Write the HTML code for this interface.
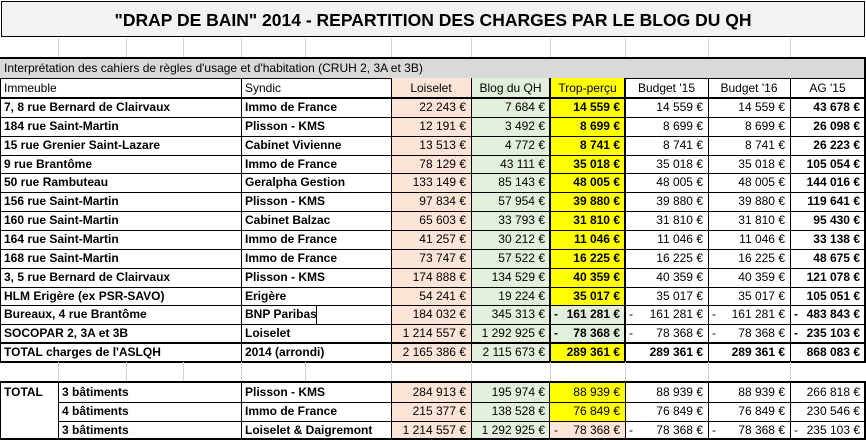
<!DOCTYPE html>
<html><head><meta charset="utf-8">
<style>
html,body{margin:0;padding:0;background:#fff;}
body{width:866px;height:440px;position:relative;overflow:hidden;font-family:"Liberation Sans",sans-serif;}
.c{position:absolute;box-sizing:border-box;font-size:12px;line-height:18px;white-space:nowrap;overflow:hidden;color:#000;}
.l{padding-left:4px;text-align:left;}
.r{padding-right:5px;text-align:right;}
.ct{text-align:center;}
.b{font-weight:bold;}
.ln{position:absolute;background:#000;}
.gl{position:absolute;background:#d4d4d4;}
</style></head>
<body>
<div class="c ct b" style="left:1px;top:1px;width:864px;height:36px;line-height:36px;font-size:17.5px;background:#f2f2f2;border:1px solid #000;">"DRAP DE BAIN" 2014 - REPARTITION DES CHARGES PAR LE BLOG DU QH</div>
<div id="grid"></div>
<script>
const cols=[0,241,391,471,550,625,708,790,865];
const headers=["Immeuble","Syndic","Loiselet","Blog du QH","Trop-perçu","Budget '15","Budget '16","AG '15"];
const names=["7, 8 rue Bernard de Clairvaux","184 rue Saint-Martin","15 rue Grenier Saint-Lazare","9 rue Brantôme","50 rue Rambuteau","156 rue Saint-Martin","160 rue Saint-Martin","164 rue Saint-Martin","168 rue Saint-Martin","3, 5 rue Bernard de Clairvaux","HLM Erigère (ex PSR-SAVO)","Bureaux, 4 rue Brantôme","SOCOPAR 2, 3A et 3B","TOTAL charges de l'ASLQH"];
const syndics=["Immo de France","Plisson - KMS","Cabinet Vivienne","Immo de France","Geralpha Gestion","Plisson - KMS","Cabinet Balzac","Immo de France","Immo de France","Plisson - KMS","Erigère","BNP Paribas","Loiselet","2014 (arrondi)"];
const loiselet=[22243,12191,13513,78129,133149,97834,65603,41257,73747,174888,54241,184032,1214557,2165386];
const blog=[7684,3492,4772,43111,85143,57954,33793,30212,57522,134529,19224,345313,1292925,2115673];
const trop=[14559,8699,8741,35018,48005,39880,31810,11046,16225,40359,35017,-161281,-78368,289361];
const b15=[14559,8699,8741,35018,48005,39880,31810,11046,16225,40359,35017,-161281,-78368,289361];
const b16=[14559,8699,8741,35018,48005,39880,31810,11046,16225,40359,35017,-161281,-78368,289361];
const ag15=[43678,26098,26223,105054,144016,119641,95430,33138,48675,121078,105051,-483843,-235103,868083];
const totCount=["3 bâtiments","4 bâtiments","3 bâtiments"];
const totSyndic=["Plisson - KMS","Immo de France","Loiselet & Daigremont"];
const totLoiselet=[284913,215377,1214557];
const totBlog=[195974,138528,1292925];
const totTrop=[88939,76849,-78368];
const totB15=[88939,76849,-78368];
const totB16=[88939,76849,-78368];
const totAG=[266818,230546,-235103];

const g=document.getElementById('grid');
function fmt(v){const s=Math.abs(v).toString().replace(/\B(?=(\d{3})+(?!\d))/g,' ');return s+' €';}
function cell(x,y,w,h,txt,cls,bg,name){
  const d=document.createElement('div');
  d.className='c '+cls;
  d.style.cssText=`left:${x}px;top:${y}px;width:${w}px;height:${h}px;line-height:${h}px;`+(bg?`background:${bg};`:'');
  d.textContent=txt;
  
  
  g.appendChild(d);return d;
}
function num(x,y,w,h,v,bold,bg,name){
  const d=cell(x,y,w,h,fmt(v),'r'+(bold?' b':''),bg,name);
  if(v<0){const m=document.createElement('span');m.textContent='-';m.style.cssText='position:absolute;left:4px;top:0;';d.appendChild(m);}
}
function hl(x1,x2,y,t,c){const d=document.createElement('div');d.className=c||'ln';d.style.cssText=`left:${x1}px;top:${y}px;width:${x2-x1}px;height:${t}px;`;g.appendChild(d);}
function vl(x,y1,y2,t,c){const d=document.createElement('div');d.className=c||'ln';d.style.cssText=`left:${x}px;top:${y1}px;width:${t}px;height:${y2-y1}px;`;g.appendChild(d);}

const SAL='#fce4d6',GRN='#e2efda',YEL='#ffff00';
[58,126,183,241,305,391,471,550,625,708,790].forEach(x=>vl(x,38,58,1,'gl'));
cell(0,59,866,19,"Interprétation des cahiers de règles d'usage et d'habitation (CRUH 2, 3A et 3B)",'l','#d9d9d9','section-header');
hl(0,866,57,2);hl(0,866,78,1);vl(864,57,362,2);
const hy=78,hh=20;
headers.forEach((t,i)=>{
  const bg=i==2?SAL:i==3?GRN:i==4?YEL:null;
  cell(cols[i],hy,cols[i+1]-cols[i],hh,t,(i<2?'l':'ct'),bg,'header-'+t.toLowerCase().replace(/[^a-z0-9]+/g,'-'));
});
const rh=(362-98)/14;
for(let r=0;r<14;r++){
  const y=98+r*rh,h=rh,bold=r==13;
  cell(cols[0],y,cols[1]-cols[0],h,names[r],'l b',null,'immeuble-cell');
  cell(cols[1],y,cols[2]-cols[1],h,syndics[r],'l b',null,'syndic-cell');
  num(cols[2],y,cols[3]-cols[2],h,loiselet[r],false,SAL,'loiselet-value');
  num(cols[3],y,cols[4]-cols[3],h,blog[r],false,GRN,'blog-value');
  num(cols[4],y,cols[5]-cols[4],h,trop[r],true,trop[r]<0?GRN:YEL,'trop-percu-value');
  num(cols[5],y,cols[6]-cols[5],h,b15[r],bold,null,'budget15-value');
  num(cols[6],y,cols[7]-cols[6],h,b16[r],bold,null,'budget16-value');
  num(cols[7],y,cols[8]-cols[7],h,ag15[r],true,null,'ag15-value');
}
for(let r=0;r<=14;r++){const y=Math.round(98+r*rh);hl(0,866,y,1);}
hl(0,866,97,1);
cols.slice(0,8).forEach(x=>vl(x,78,362,1));
vl(549,78,362,2);vl(624,78,362,2);
vl(316,Math.round(98+11*rh),Math.round(98+12*rh),1);
hl(0,866,342,2);hl(0,866,361,2);
const ty=383,th=19;
cell(0,ty,58,th,'TOTAL','l b',null,'total-label');
for(let r=0;r<3;r++){
  const y=ty+r*th;
  cell(58,y,183,th,totCount[r],'l b',null,'total-count');
  cell(cols[1],y,cols[2]-cols[1],th,totSyndic[r],'l b',null,'total-syndic');
  num(cols[2],y,cols[3]-cols[2],th,totLoiselet[r],false,SAL,'total-loiselet');
  num(cols[3],y,cols[4]-cols[3],th,totBlog[r],false,GRN,'total-blog');
  num(cols[4],y,cols[5]-cols[4],th,totTrop[r],false,totTrop[r]<0?SAL:YEL,'total-trop');
  num(cols[5],y,cols[6]-cols[5],th,totB15[r],false,null,'total-budget15');
  num(cols[6],y,cols[7]-cols[6],th,totB16[r],false,null,'total-budget16');
  num(cols[7],y,cols[8]-cols[7],th,totAG[r],false,null,'total-ag15');
}
[58,126,183,241,305,391,471,550,625,708,790].forEach(x=>vl(x,362,381,1,'gl'));
hl(0,866,381,2);hl(58,866,402,1);hl(58,866,421,1);hl(0,866,438,2);
[0,58,241,391,471,549,625,708,790].forEach(x=>vl(x,381,440,1));
vl(864,381,440,2);
</script>
</body></html>
